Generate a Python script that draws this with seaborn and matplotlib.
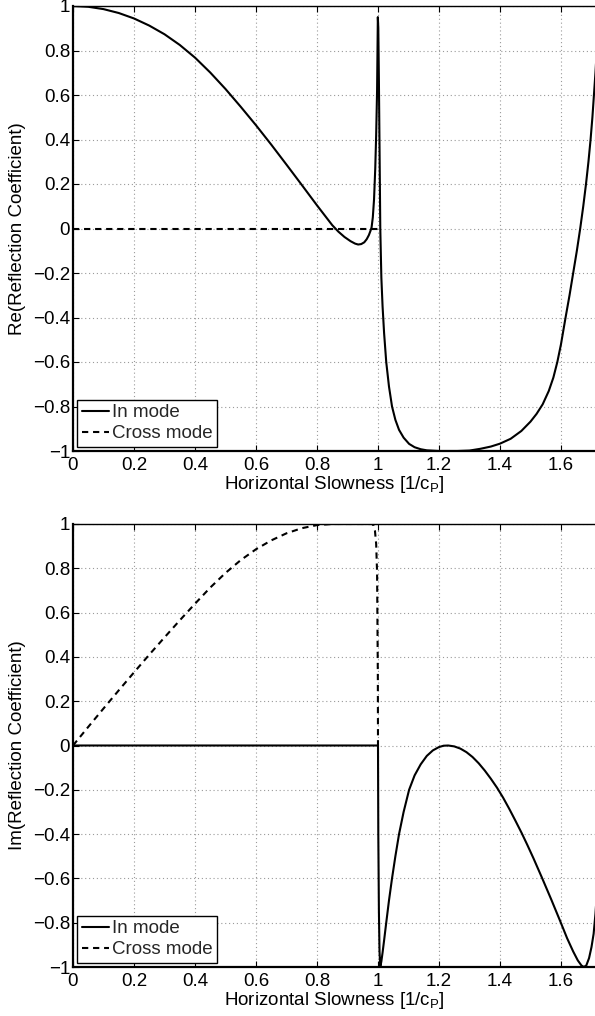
import numpy as np
import pandas as pd
import matplotlib
matplotlib.use("Agg")
import matplotlib.pyplot as plt
import seaborn as sns
from matplotlib.ticker import FixedLocator

# ---------------- data ----------------
# In mode, real part
re_in_x = [0.0, 0.05, 0.1, 0.15, 0.2, 0.25, 0.3, 0.35, 0.4, 0.45, 0.5, 0.55,
           0.6, 0.65, 0.7, 0.75, 0.8, 0.85, 0.87, 0.89, 0.91, 0.925, 0.935,
           0.945, 0.955, 0.963, 0.97, 0.975, 0.979, 0.983, 0.987, 0.991,
           0.994, 0.997, 0.9995,
           1.001, 1.003, 1.005, 1.0075, 1.011, 1.015, 1.02, 1.027, 1.036,
           1.046, 1.057, 1.069, 1.084, 1.102, 1.12, 1.14, 1.16, 1.2, 1.26,
           1.3, 1.336, 1.37, 1.4, 1.435, 1.47, 1.5, 1.52, 1.54, 1.56, 1.575,
           1.588, 1.6, 1.615, 1.628, 1.64, 1.652, 1.663, 1.673, 1.682, 1.69,
           1.697, 1.703, 1.708, 1.713, 1.716]
re_in_y = [1.0, 0.9965, 0.986, 0.9685, 0.944, 0.912, 0.873, 0.825, 0.768,
           0.701, 0.627, 0.547, 0.464, 0.377, 0.287, 0.196, 0.104, 0.015,
           -0.014, -0.038, -0.057, -0.068, -0.072, -0.07, -0.062, -0.048,
           -0.03, -0.012, 0.005, 0.05, 0.13, 0.27, 0.42, 0.62, 0.95,
           0.9, 0.66, 0.37, 0.0, -0.22, -0.35, -0.47, -0.6, -0.71,
           -0.8, -0.86, -0.905, -0.94, -0.968, -0.983, -0.992, -0.997, -1.0,
           -1.0, -0.998, -0.99, -0.98, -0.967, -0.945, -0.91, -0.868, -0.833,
           -0.79, -0.73, -0.67, -0.6, -0.52, -0.4, -0.3, -0.2, -0.1, 0.0, 0.1,
           0.2, 0.3, 0.4, 0.5, 0.6, 0.7, 0.77]

# Cross mode, real part
re_cross_x = [0.0, 1.0]
re_cross_y = [0.0, 0.0]

# In mode, imaginary part
im_in_x = [0.0, 1.0, 1.001, 1.003, 1.005, 1.0075, 1.011, 1.015, 1.02, 1.027,
           1.036, 1.046, 1.057, 1.069, 1.084, 1.102, 1.12, 1.14, 1.16, 1.18,
           1.2, 1.215, 1.23, 1.25, 1.27, 1.29, 1.31, 1.33, 1.35, 1.37, 1.39,
           1.41, 1.43, 1.45, 1.471, 1.49, 1.51, 1.537, 1.568, 1.598, 1.62,
           1.64, 1.655, 1.667, 1.675, 1.683, 1.692, 1.7, 1.707, 1.713, 1.716]
im_in_y = [0.0, 0.0, -0.4, -0.75, -0.93, -1.0, -0.975, -0.935, -0.88, -0.8,
           -0.7, -0.6, -0.5, -0.4, -0.3, -0.2, -0.135, -0.085, -0.047, -0.022,
           -0.007, -0.001, 0.0, -0.004, -0.014, -0.03, -0.052, -0.08, -0.113,
           -0.15, -0.19, -0.235, -0.285, -0.338, -0.395, -0.45, -0.51, -0.595,
           -0.695, -0.795, -0.87, -0.93, -0.97, -0.993, -1.0, -0.993, -0.96,
           -0.91, -0.85, -0.76, -0.7]

# Cross mode, imaginary part
im_cross_x = [0.0, 0.05, 0.1, 0.15, 0.2, 0.25, 0.3, 0.35, 0.4, 0.45, 0.5, 0.55,
              0.6, 0.65, 0.7, 0.75, 0.8, 0.85, 0.9, 0.95, 0.98, 0.985, 0.99,
              0.994, 0.997, 0.9995, 1.0]
im_cross_y = [0.0, 0.084, 0.167, 0.249, 0.33, 0.41, 0.488, 0.565, 0.64, 0.713,
              0.779, 0.837, 0.886, 0.926, 0.958, 0.981, 0.995, 1.0, 1.0, 1.0,
              1.0, 0.995, 0.97, 0.91, 0.78, 0.31, 0.0]

x_ticks = [0, 0.2, 0.4, 0.6, 0.8, 1.0, 1.2, 1.4, 1.6]
x_ticklabels = ["0", "0.2", "0.4", "0.6", "0.8", "1", "1.2", "1.4", "1.6"]
y_ticks = [-1, -0.8, -0.6, -0.4, -0.2, 0, 0.2, 0.4, 0.6, 0.8, 1]
y_ticklabels = ["\u22121", "\u22120.8", "\u22120.6", "\u22120.4", "\u22120.2",
                "0", "0.2", "0.4", "0.6", "0.8", "1"]
labels = ["In mode", "Cross mode"]
ylabels = ["Re(Reflection Coefficient)", "Im(Reflection Coefficient)"]
xlabel = "Horizontal Slowness [1/c$_\\mathrm{P}$]"

# ---------------- styling ----------------
sns.set_theme(style="white")
plt.rcParams["font.family"] = ["Liberation Sans", "DejaVu Sans"]
plt.rcParams["mathtext.fontset"] = "custom"
plt.rcParams["mathtext.rm"] = "Liberation Sans"
plt.rcParams["mathtext.it"] = "Liberation Sans:italic"
plt.rcParams["axes.unicode_minus"] = True

FS = 13.5
fig = plt.figure(figsize=(5.95, 10.16), dpi=100)
fig.patch.set_facecolor("white")

ax1 = fig.add_axes([73 / 595, 1 - 451 / 1016, 1 - 73 / 595, (451 - 6) / 1016])
ax2 = fig.add_axes([73 / 595, 1 - 967 / 1016, 1 - 73 / 595, (967 - 524) / 1016])

dash = (0, (3.0, 2.3))

sns.lineplot(x=re_in_x, y=re_in_y, ax=ax1, color="black", linewidth=1.5,
             sort=False, estimator=None, label=labels[0])
sns.lineplot(x=re_cross_x, y=re_cross_y, ax=ax1, color="black", linewidth=1.5,
             sort=False, estimator=None, label=labels[1], linestyle=dash)
sns.lineplot(x=im_in_x, y=im_in_y, ax=ax2, color="black", linewidth=1.5,
             sort=False, estimator=None, label=labels[0])
sns.lineplot(x=im_cross_x, y=im_cross_y, ax=ax2, color="black", linewidth=1.5,
             sort=False, estimator=None, label=labels[1], linestyle=dash)

for ax, yl in zip([ax1, ax2], ylabels):
    ax.set_xlim(0, 1.7115)
    ax.set_ylim(-1, 1)
    ax.xaxis.set_major_locator(FixedLocator(x_ticks))
    ax.set_xticklabels(x_ticklabels)
    ax.yaxis.set_major_locator(FixedLocator(y_ticks))
    ax.set_yticklabels(y_ticklabels)
    ax.tick_params(axis="both", which="major", direction="in", length=4,
                   width=0.8, colors="black", labelsize=FS, pad=2,
                   top=True, bottom=True, left=True, right=False)
    ax.tick_params(axis="x", pad=4.5)
    ax.grid(True, color="#9a9a9a", linestyle=(0, (1, 2.5)), linewidth=0.8)
    ax.set_axisbelow(True)
    for side in ["left", "bottom"]:
        ax.spines[side].set_linewidth(1.6)
        ax.spines[side].set_color("black")
    ax.spines["top"].set_linewidth(1.0)
    ax.spines["top"].set_color("black")
    ax.spines["right"].set_visible(False)
    ax.set_xlabel(xlabel, fontsize=FS, labelpad=0, color="black")
    ax.set_ylabel(yl, fontsize=FS, labelpad=5, color="black")
    for lab in ax.get_xticklabels() + ax.get_yticklabels():
        lab.set_color("black")
    leg = ax.legend(loc="lower left", fontsize=FS, frameon=True, fancybox=False,
                    framealpha=1, edgecolor="black", borderpad=0.25,
                    labelspacing=0.2, handlelength=1.45, handletextpad=0.15,
                    borderaxespad=0.22)
    leg.get_frame().set_linewidth(1.0)

fig.savefig("out.png", dpi=100, facecolor="white")
